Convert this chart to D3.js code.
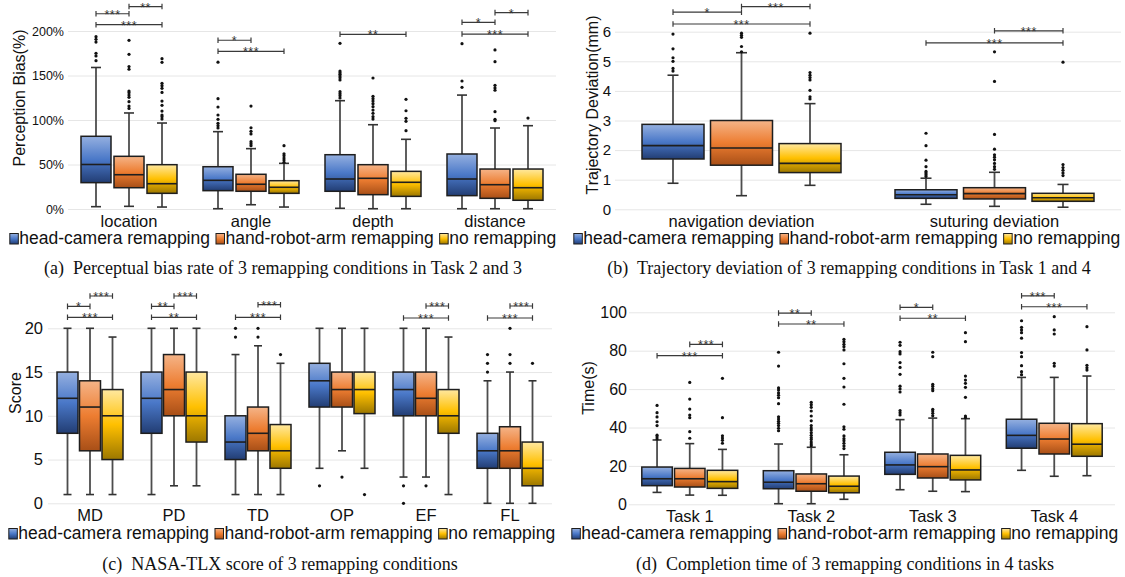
<!DOCTYPE html>
<html lang="en">
<head>
<meta charset="UTF-8">
<title>Remapping conditions - box plots</title>
<script src="https://d3js.org/d3.v7.min.js"></script>
<style>
    body{margin:0;background:#fff;}
    svg{display:block;font-family:"Liberation Sans",Arial,sans-serif;}
    .grid line{stroke:#e6e6e6;stroke-width:1;}
    .grid text{fill:#111;}
    .caption{font-family:"Liberation Serif","DejaVu Serif",serif;fill:#111;}
</style>
</head>
<body>
<svg id="fig" width="1125" height="577"></svg>
<script>
const seriesNames = ["head-camera remapping", "hand-robot-arm remapping", "no remapping"];

// each box: [lower whisker, q1, median, q3, upper whisker]
// (a) perceptual bias, %
const biasCategories = ["location", "angle", "depth", "distance"];
const biasHead = [[2.6,29.6,50,81.7,159],[0.3,20.6,32.2,47.5,86.9],[0.8,19.9,33.7,61,121.7],[0.3,15,33.7,61.8,128]];
const biasHand = [[3,23.9,38.5,59.2,107.9],[4.8,19.9,27.8,39,67.8],[0.3,16.1,34.5,49.8,94.7],[0.3,12,27.3,44.9,91]];
const biasNone = [[2.2,17.6,28.4,49.8,96.6],[2.2,17.6,24.4,31.8,51.3],[0.3,14.2,30,42.3,78.3],[0.3,9.8,23.9,44.9,93.6]];
const biasHeadOut = [[193.6,190.7,187.6,175,172,166.7],[165,124,114.6,105.6,100.8,96.3,93.6,91],[186.2,155,153.2,151.3,149.4,147.5,145,131.8,129.6,127.3,124.7],[185.8,143.8,136.7]];
const biasHandOut = [[189.5,173.8,160,157,132.6,130.7,128,125.5,120.6,115.7,113],[115.7,91.3,87.3,84.3,75.6,73.4,71.1],[147.2,126.6,124,121.3,118.3,115,111.2,107.5,103.7,101],[178.7,165.5,139,136,133.4,109.4,100.8,99.2]];
const biasNoneOut = [[168.9,164.8,141.2,138.6,135.6,131,121.3,116.5,110,105.6,103.7,101],[71.1,62.1,59.9,57.3,55,52.5],[123.2,110.4,101.9,98.5,88],[102.2]];
// [category, from series, to series, stars, bracket level in axis units]
const biasSig = [[0,0,1,"***",219.4],[0,1,2,"**",227.5],[0,0,2,"***",207.1],[1,0,1,"*",189.6],[1,0,2,"***",177.2],[2,0,2,"**",196.3],[3,0,1,"*",209.8],[3,1,2,"*",220.6],[3,0,2,"***",196.6]];

// (b) trajectory deviation, mm
const trajCategories = ["navigation deviation", "suturing deviation"];
const trajHead = [[0.88,1.70,2.15,2.87,4.53],[0.17,0.37,0.49,0.66,1.05]];
const trajHand = [[0.46,1.49,2.07,3.0,5.29],[0.10,0.35,0.53,0.73,1.25]];
const trajNone = [[0.81,1.24,1.55,2.22,3.57],[0.07,0.27,0.39,0.54,0.84]];
const trajHeadOut = [[5.92,5.42,5.12,5.0,4.76,4.67],[2.57,2.15,1.66,1.44,1.28,1.23,1.17,1.11]];
const trajHandOut = [[5.95,5.88,5.81,5.5,5.32],[5.32,4.32,2.53,2.03,1.84,1.76,1.67,1.55,1.44,1.35]];
const trajNoneOut = [[5.95,4.62,4.53,4.45,4.37,4.02,3.8,3.73],[4.97,1.51,1.41,1.32,1.23,1.14]];
const trajSig = [[0,0,1,"*",6.66],[0,1,2,"***",6.85],[0,0,2,"***",6.26],[1,1,2,"***",6.03],[1,0,2,"***",5.62]];

// (c) NASA-TLX score
const tlxCategories = ["MD", "PD", "TD", "OP", "EF", "FL"];
const tlxHead = [[1,8,12,15,20],[1,8,12,15,20],[1,5,7,10,17],[4,11,14,16,20],[3,10,13,15,20],[0,4,6,8,14]];
const tlxHand = [[1,6,11,14,20],[2,10,13,17,20],[1,6,8,11,18],[6,11,13,15,20],[3,10,12,15,20],[0,4,6,8.75,15]];
const tlxNone = [[1,5,10,13,19],[2,7,10,15,20],[1,4,6,9,16],[4,10.25,13,15,20],[1,8,10,13,19],[0,2,4,7,14]];
const tlxHeadOut = [[],[],[20,19],[2],[2,0],[17,16,15]];
const tlxHandOut = [[],[],[20,19],[3],[2],[20,17,16]];
const tlxNoneOut = [[],[],[17],[1],[],[16]];
const tlxSig = [[0,0,1,"*",22.51],[0,1,2,"***",23.69],[0,0,2,"***",21.26],[1,0,1,"**",22.51],[1,1,2,"***",23.69],[1,0,2,"**",21.26],[2,1,2,"***",22.7],[2,0,2,"***",21.26],[4,1,2,"***",22.55],[4,0,2,"***",21.18],[5,1,2,"***",22.55],[5,0,2,"***",21.18]];

// (d) completion time, s
const timeCategories = ["Task 1", "Task 2", "Task 3", "Task 4"];
const timeHead = [[6.2,9.7,13.3,19.4,33.5],[0.3,8.1,11.5,17.5,31.4],[7.6,15.6,20.5,27.1,44.1],[17.7,29.2,35.9,44.3,66.1]];
const timeHand = [[4.8,9,13.3,18.7,31.6],[0.3,6.8,10.7,15.8,29.7],[6.8,13.7,19.6,26.2,44.9],[14.6,26.2,34,42.2,66.1]];
const timeNone = [[4.7,8.3,11.8,17.7,28.6],[2.6,6,9.4,14.7,25.8],[6.6,12.7,17.9,25.5,44.6],[14.9,25,31.3,42,66.8]];
const timeHeadOut = [[51.5,47.7,45.5,43,41,36,35,34],[79.2,72,60.6,59.5,58,56.8,55.5,52.4,45.6,44.4,43.2,42.2,41,39.6,38.3],[84.4,82.8,79.5,78.3,73.8,71.3,67.7,61.5,60.1,58.5,48.8,47.7,46.5],[95.6,92.2,90.8,89.4,86.5,79,76.9,72.2,69.1,67.5]];
const timeHandOut = [[63.5,54.8,49.6,46.5,45.1,37.8,34.4],[53.1,51.9,50.5,48.6,46,43.5,41,39.7,38.7,37.3,35.9,34.7,33.7,32.4,31.4,30.5],[79.2,76.9,62.5,61.5,60.2,59.2,49.5,48.6,47.4,46.1],[97.7,90.8,88.7,73.4,72]];
const timeNoneOut = [[65.6,45.1,35.7,34.5,33.3,31.8],[85.9,84.7,83.3,82.1,80.4,73.2,65.6,61.1,52.1,40.4,39.1,35.6,34.2,33.1,31.8,30.4,29],[89.4,84.7,66.8,64.7,63,60.9,55.7,46,45.1],[92.5,80.4,72.4,71.1,69.9]];
const timeSig = [[0,1,2,"***",83.3],[0,0,2,"***",77.4],[1,0,1,"**",99.6],[1,0,2,"**",93.9],[2,0,1,"*",102.6],[2,0,2,"**",96.9],[3,0,1,"***",108.6],[3,0,2,"***",102.9]];

// gradient stops per series: top, middle, bottom
const seriesColors = [
    ["#95b0e0", "#4a78c8", "#223d73"],
    ["#f5b488", "#ed7d31", "#a84f17"],
    ["#ffe8a0", "#ffc000", "#9c7700"]
];

const svg = d3.select("#fig");
const defs = svg.append("defs");
seriesColors.forEach(function (c, i) {
    let g = defs.append("linearGradient").attr("id", "grad" + i)
        .attr("x1", 0).attr("y1", 0).attr("x2", 0).attr("y2", 1);
    g.append("stop").attr("offset", "0%").attr("stop-color", c[0]);
    g.append("stop").attr("offset", "50%").attr("stop-color", c[1]);
    g.append("stop").attr("offset", "100%").attr("stop-color", c[2]);
});

const panels = [
    {cats: biasCategories, stats: [biasHead, biasHand, biasNone], outs: [biasHeadOut, biasHandOut, biasNoneOut], sig: biasSig,
     domain: [0, 200], ticks: [0, 50, 100, 150, 200], fmt: d => d + "%", x: [68, 556], y: [209, 31],
     boxW: 30, step: 33, cap: 10, tickFont: 12.5, tickPad: 4,
     title: "Perception Bias(%)", titleX: 19, titleY: 98, catY: 227, legendX: 283, legendY: 244,
     caption: "(a)\u00a0 Perceptual bias rate of 3 remapping conditions in Task 2 and 3", capX: 283, capY: 274},
    {cats: trajCategories, stats: [trajHead, trajHand, trajNone], outs: [trajHeadOut, trajHandOut, trajNoneOut], sig: trajSig,
     domain: [0, 6], ticks: [0, 1, 2, 3, 4, 5, 6], fmt: d => d, x: [615, 1121], y: [209.3, 31.7],
     boxW: 62, step: 68.5, cap: 11, tickFont: 15, tickPad: 4,
     title: "Trajectory Deviation(mm)", titleX: 592, titleY: 105, catY: 227, legendX: 847, legendY: 244,
     caption: "(b)\u00a0 Trajectory deviation of 3 remapping conditions in Task 1 and 4", capX: 849, capY: 274},
    {cats: tlxCategories, stats: [tlxHead, tlxHand, tlxNone], outs: [tlxHeadOut, tlxHandOut, tlxNoneOut], sig: tlxSig,
     domain: [0, 20], ticks: [0, 5, 10, 15, 20], fmt: d => d, x: [48, 552], y: [503.3, 328.3],
     boxW: 21, step: 22.5, cap: 8, tickFont: 16.5, tickPad: 5,
     title: "Score", titleX: 15, titleY: 393, catY: 521, legendX: 282, legendY: 539,
     caption: "(c)\u00a0 NASA-TLX score of 3 remapping conditions", capX: 280, capY: 570},
    {cats: timeCategories, stats: [timeHead, timeHand, timeNone], outs: [timeHeadOut, timeHandOut, timeNoneOut], sig: timeSig,
     domain: [0, 100], ticks: [0, 20, 40, 60, 80, 100], fmt: d => d, x: [629, 1115], y: [504.3, 312.3],
     boxW: 30.5, step: 32.7, cap: 9, tickFont: 16, tickPad: 2,
     title: "Time(s)", titleX: 588, titleY: 388, catY: 522, legendX: 845, legendY: 539,
     caption: "(d)\u00a0 Completion time of 3 remapping conditions in 4 tasks", capX: 845, capY: 570}
];

panels.forEach(drawPanel);

function drawPanel(p) {
    let x = d3.scaleBand().domain(d3.range(p.cats.length)).range(p.x);
    let y = d3.scaleLinear().domain(p.domain).range(p.y);
    let cx = (c, s) => x(c) + x.bandwidth() / 2 + (s - 1) * p.step;
    let g = svg.append("g");

    // grid + tick labels
    let axis = g.append("g").attr("class", "grid")
        .attr("transform", "translate(" + p.x[0] + ",0)")
        .call(d3.axisLeft(y).tickValues(p.ticks).tickFormat(p.fmt)
            .tickSize(-(p.x[1] - p.x[0])).tickPadding(p.tickPad));
    axis.select(".domain").remove();
    axis.selectAll("text").style("font-size", p.tickFont + "px").style("font-family", "'Liberation Sans',Arial,sans-serif");

    // boxes
    p.stats.forEach(function (series, s) {
        let sg = g.append("g");
        let boxes = sg.selectAll("g.box").data(series).enter().append("g").attr("class", "box");
        boxes.append("line")
            .attr("x1", (d, c) => cx(c, s)).attr("x2", (d, c) => cx(c, s))
            .attr("y1", d => y(d[0])).attr("y2", d => y(d[4]))
            .attr("stroke", "#4d4d4d").attr("stroke-width", 1.8);
        [0, 4].forEach(function (k) {
            boxes.append("line")
                .attr("x1", (d, c) => cx(c, s) - p.cap / 2).attr("x2", (d, c) => cx(c, s) + p.cap / 2)
                .attr("y1", d => y(d[k])).attr("y2", d => y(d[k]))
                .attr("stroke", "#333").attr("stroke-width", 1.6);
        });
        boxes.append("rect")
            .attr("x", (d, c) => cx(c, s) - p.boxW / 2).attr("width", p.boxW)
            .attr("y", d => y(d[3])).attr("height", d => y(d[1]) - y(d[3]))
            .attr("fill", "url(#grad" + s + ")")
            .attr("stroke", "#1e1e1e").attr("stroke-width", 1.5);
        boxes.append("line")
            .attr("x1", (d, c) => cx(c, s) - p.boxW / 2).attr("x2", (d, c) => cx(c, s) + p.boxW / 2)
            .attr("y1", d => y(d[2])).attr("y2", d => y(d[2]))
            .attr("stroke", "#1e1e1e").attr("stroke-width", 1.6);

        // outliers
        let pts = [];
        p.outs[s].forEach((arr, c) => arr.forEach(v => pts.push([c, v])));
        sg.selectAll("circle").data(pts).enter().append("circle")
            .attr("cx", d => cx(d[0], s)).attr("cy", d => y(d[1]))
            .attr("r", 1.6).attr("fill", "#111");
    });

    // significance brackets
    let br = g.selectAll("g.sig").data(p.sig).enter().append("g").attr("class", "sig");
    br.append("path")
        .attr("d", function (d) {
            let a = cx(d[0], d[1]), b = cx(d[0], d[2]), h = y(d[4]);
            return "M" + a + "," + (h - 2.8) + "V" + (h + 2.8) + "M" + a + "," + h + "H" + b +
                "M" + b + "," + (h - 2.8) + "V" + (h + 2.8);
        })
        .attr("fill", "none").attr("stroke", "#3a3a3a").attr("stroke-width", 1.2);
    br.append("text")
        .attr("x", d => (cx(d[0], d[1]) + cx(d[0], d[2])) / 2)
        .attr("y", d => y(d[4]) + 5)
        .attr("text-anchor", "middle")
        .style("font-size", "12.5px").style("letter-spacing", "0.5px").attr("fill", "#333")
        .text(d => d[3]);

    // category labels
    g.selectAll("text.cat").data(p.cats).enter().append("text").attr("class", "cat")
        .attr("x", (d, i) => x(i) + x.bandwidth() / 2).attr("y", p.catY)
        .attr("text-anchor", "middle").style("font-size", "16.5px").attr("fill", "#111")
        .text(d => d);

    // y title
    g.append("text")
        .attr("transform", "translate(" + p.titleX + "," + p.titleY + ") rotate(-90)")
        .attr("dy", "0.35em").attr("text-anchor", "middle")
        .style("font-size", "16px").attr("fill", "#111")
        .text(p.title);

    // legend
    let lg = g.append("g");
    let cursor = 0;
    seriesNames.forEach(function (name, s) {
        lg.append("rect").attr("x", cursor).attr("y", p.legendY - 10.5).attr("width", 8.5).attr("height", 10.5)
            .attr("fill", "url(#grad" + s + ")").attr("stroke", "#1e1e1e").attr("stroke-width", 1);
        let t = lg.append("text").attr("x", cursor + 9.5).attr("y", p.legendY)
            .style("font-size", "17.5px").attr("fill", "#111").text(name);
        cursor += 9.5 + t.node().getComputedTextLength() + 6;
    });
    lg.attr("transform", "translate(" + (p.legendX - (cursor - 6) / 2) + ",0)");

    // caption
    g.append("text").attr("class", "caption")
        .attr("x", p.capX).attr("y", p.capY).attr("text-anchor", "middle")
        .style("font-size", "18px")
        .text(p.caption);
}
</script>
</body>
</html>
